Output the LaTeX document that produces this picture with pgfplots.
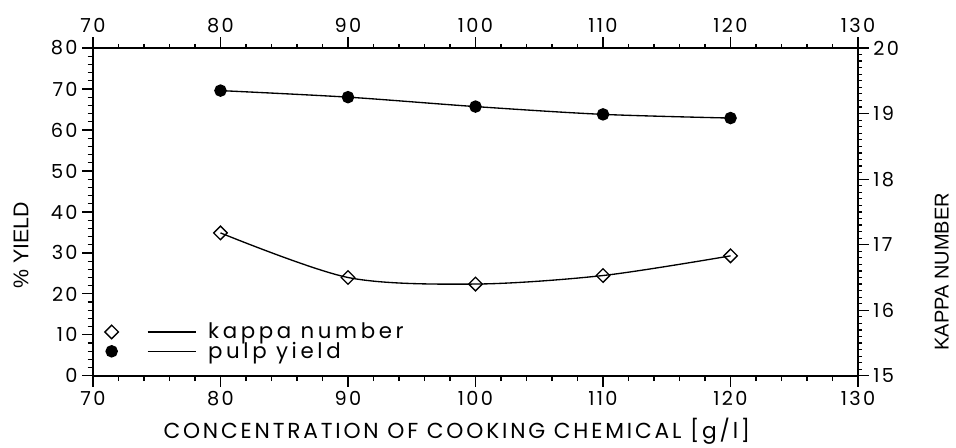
\documentclass[border=0pt]{standalone}
\usepackage{fontspec}
\setmainfont{Poppins}
\newfontfamily\labfont{Liberation Sans}
\newfontfamily\widefont[LetterSpace=13]{Poppins}
\newfontfamily\tickfont[LetterSpace=12]{Poppins}
\newfontfamily\legfont[LetterSpace=17]{Poppins}
\usepackage{pgfplots}
\pgfplotsset{compat=1.18}
\pgfplotsset{
  common/.style={
    scale only axis, width=574pt, height=246pt,
    xmin=70, xmax=130,
    xtick={70,80,...,130}, minor x tick num=4,
    tick align=outside,
    major tick length=8pt, minor tick length=4pt,
    every tick/.style={black, line width=0.9pt},
    axis line style={-, line width=1pt},
    tick label style={font=\tickfont\fontsize{14.5}{16}\selectfont},
    /pgf/number format/assume math mode=true,
    clip=false,
  },
}
\begin{document}
\begin{tikzpicture}
\begin{axis}[common, name=ax,
  axis x line*=bottom, axis y line*=left,
  ymin=0, ymax=80, ytick={0,10,...,80}, minor y tick num=4,
  xlabel={CONCENTRATION OF COOKING CHEMICAL [g/l]},
  xlabel style={font=\widefont\fontsize{16.3}{17}\selectfont, yshift=-2pt, xshift=-14pt},
  ylabel={\labfont\% YIELD},
  ylabel style={font=\fontsize{16}{17}\selectfont, yshift=10pt, xshift=-25pt},
]
\addplot[black, line width=1pt, smooth, mark=*, mark size=4.2pt]
  coordinates {(80,69.6) (90,68.0) (100,65.7) (110,63.8) (120,62.9)};
\end{axis}
\begin{axis}[common,
  axis x line*=top, axis y line*=right,
  ymin=15, ymax=20, ytick={15,...,20}, minor y tick num=9,
  minor tick length=3pt,
  ylabel={\labfont KAPPA NUMBER},
  ylabel style={font=\fontsize{15}{16}\selectfont, yshift=-20pt, xshift=-45pt},
  legend style={draw=none, fill=none, at={(axis description cs:0.01,0.03)}, anchor=south west,
    font=\legfont\fontsize{16}{16}\selectfont, row sep=-3pt,
    /tikz/every odd column/.append style={column sep=7pt}},
  legend cell align=left,
  legend image code/.code={
    \draw[#1, mark=none, line width=0.8pt, shorten <=27pt] (0pt,0pt) -- (63pt,0pt);
    \draw[#1, sharp plot] plot coordinates {(0pt,0pt)};
  },
]
\addplot[black, line width=1pt, smooth, mark=square, mark size=3.6pt, mark options={rotate=45, fill=white, line width=1pt}]
  coordinates {(80,17.18) (90,16.5) (100,16.4) (110,16.53) (120,16.83)};
\addlegendentry{kappa number}
\addlegendimage{black, line width=1pt, mark=*, mark size=4.2pt}
\addlegendentry{pulp yield}
\end{axis}
\pgfresetboundingbox
\path ([shift={(-69.75pt,-54pt)}]ax.south west) rectangle ([shift={(73.5pt,36pt)}]ax.north east);
\end{tikzpicture}
\end{document}
